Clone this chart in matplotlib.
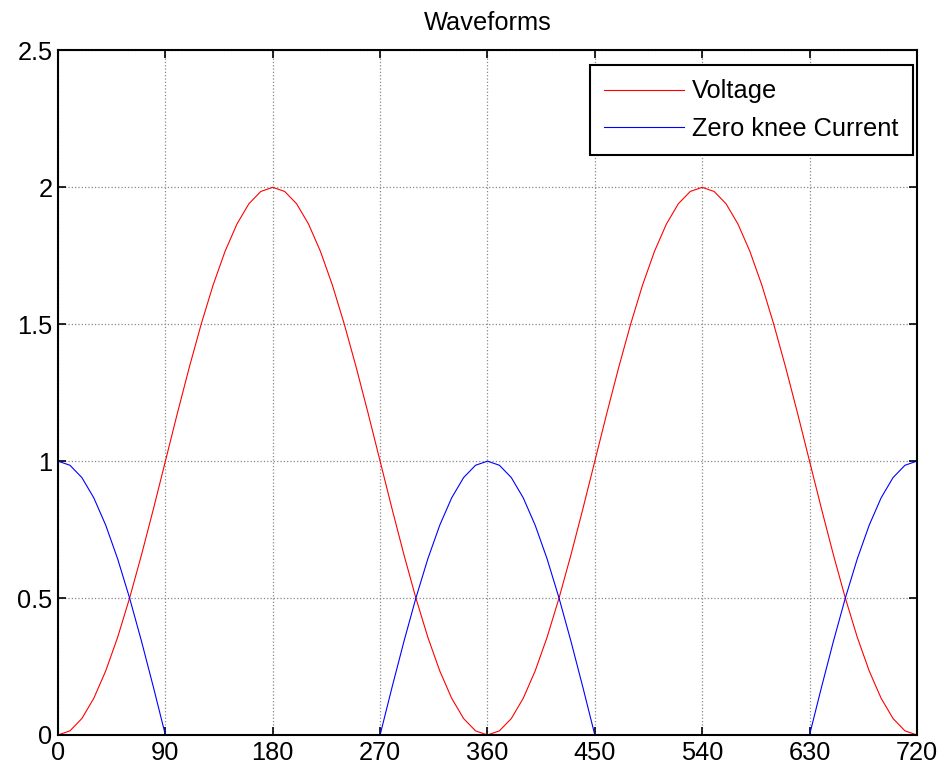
import matplotlib.pyplot as plt

# angle in degrees, sampled every 10 deg
angle = list(range(0, 721, 10))

voltage = [0.000, 0.015, 0.060, 0.134, 0.234, 0.357, 0.500, 0.658, 0.826,
           1.000, 1.174, 1.342, 1.500, 1.643, 1.766, 1.866, 1.940, 1.985,
           2.000, 1.985, 1.940, 1.866, 1.766, 1.643, 1.500, 1.342, 1.174,
           1.000, 0.826, 0.658, 0.500, 0.357, 0.234, 0.134, 0.060, 0.015,
           0.000, 0.015, 0.060, 0.134, 0.234, 0.357, 0.500, 0.658, 0.826,
           1.000, 1.174, 1.342, 1.500, 1.643, 1.766, 1.866, 1.940, 1.985,
           2.000, 1.985, 1.940, 1.866, 1.766, 1.643, 1.500, 1.342, 1.174,
           1.000, 0.826, 0.658, 0.500, 0.357, 0.234, 0.134, 0.060, 0.015,
           0.000]

current = [1.000, 0.985, 0.940, 0.866, 0.766, 0.643, 0.500, 0.342, 0.174,
           0.000, 0.000, 0.000, 0.000, 0.000, 0.000, 0.000, 0.000, 0.000,
           0.000, 0.000, 0.000, 0.000, 0.000, 0.000, 0.000, 0.000, 0.000,
           0.000, 0.174, 0.342, 0.500, 0.643, 0.766, 0.866, 0.940, 0.985,
           1.000, 0.985, 0.940, 0.866, 0.766, 0.643, 0.500, 0.342, 0.174,
           0.000, 0.000, 0.000, 0.000, 0.000, 0.000, 0.000, 0.000, 0.000,
           0.000, 0.000, 0.000, 0.000, 0.000, 0.000, 0.000, 0.000, 0.000,
           0.000, 0.174, 0.342, 0.500, 0.643, 0.766, 0.866, 0.940, 0.985,
           1.000]

xticks = [0, 90, 180, 270, 360, 450, 540, 630, 720]
yticks = [0, 0.5, 1, 1.5, 2, 2.5]

plt.rcParams['font.family'] = ['Liberation Sans', 'DejaVu Sans']

fig = plt.figure(figsize=(9.48, 7.7), dpi=100)
ax = fig.add_axes([0.0612, 0.0455, 0.906, 0.889])

ax.plot(angle, voltage, color='red', lw=0.8, label='Voltage')
ax.plot(angle, current, color='blue', lw=0.8, label='Zero knee Current')

ax.set_xlim(0, 720)
ax.set_ylim(0, 2.5)
ax.set_xticks(xticks)
ax.set_yticks(yticks)
ax.set_yticklabels(['0', '0.5', '1', '1.5', '2', '2.5'])
ax.tick_params(direction='in', length=6, width=1.2, labelsize=18.3,
               top=True, right=True, pad=4)
ax.grid(True, color='#888888', linestyle=':', linewidth=0.9)
for s in ax.spines.values():
    s.set_linewidth(1.5)

ax.set_title('Waveforms', fontsize=18.3, pad=15)

leg = ax.legend(loc='upper right', bbox_to_anchor=(0.995, 0.978),
                fontsize=18.3, fancybox=False, edgecolor='black',
                framealpha=1, handlelength=3.15, handletextpad=0.32,
                borderpad=0.55, borderaxespad=0, labelspacing=0.53)
leg.get_frame().set_linewidth(1.5)

fig.savefig('out.png', dpi=100)
